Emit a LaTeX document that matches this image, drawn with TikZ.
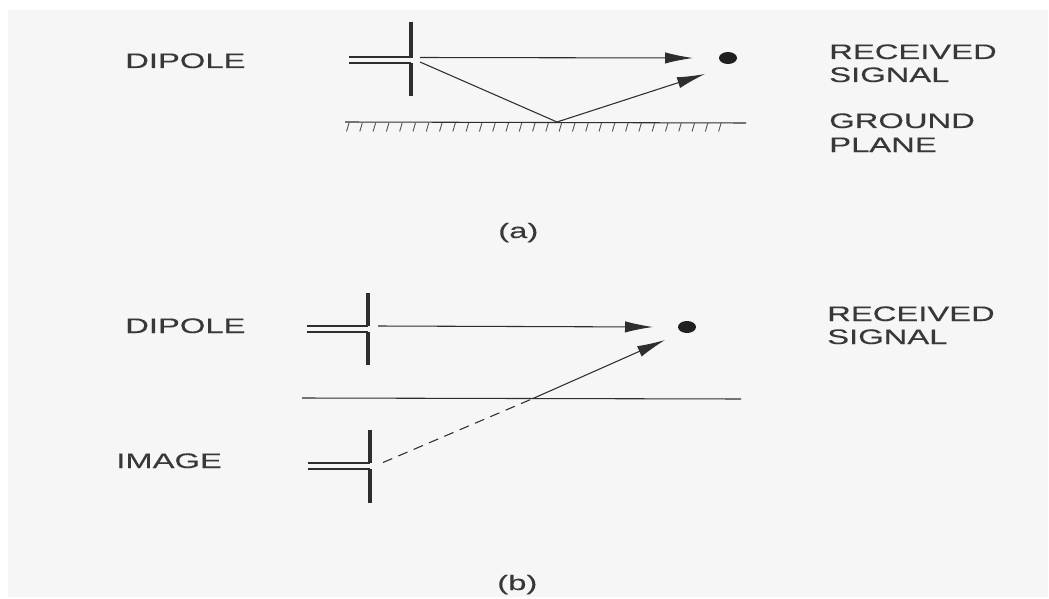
\documentclass[tikz,border=0pt]{standalone}
\usepackage{fontspec}
\setmainfont[FakeStretch=1.56,FakeBold=0.25]{Liberation Sans}
\usetikzlibrary{arrows.meta,shapes.geometric}
\definecolor{paper}{HTML}{F6F6F6}
\definecolor{ink}{HTML}{2E2E2E}
\definecolor{txt}{HTML}{383838}
\tikzset{
  lbl/.style={anchor=base west,inner sep=0pt,text=txt,font=\fontsize{15.75pt}{18pt}\selectfont},
  arm/.style={draw=ink,line width=3pt},
  feed/.style={draw=ink,line width=0.95pt},
  ray/.style={draw=ink,line width=0.8pt},
  head/.style={-{Latex[length=21pt,width=8.5pt]}},
  plane/.style={draw=ink,line width=0.8pt},
  hatch/.style={draw=ink!80,line width=0.7pt},
  rxdot/.style={ellipse,fill=black!88,inner sep=0pt,minimum width=13.5pt,minimum height=9pt}
}
\begin{document}
\begin{tikzpicture}[x=0.75pt,y=-0.75pt]
\useasboundingbox (0,0) rectangle (1049,599);
\fill[white] (0,0) rectangle (1049,599);
\fill[paper] (8,10) rectangle (1048,597);

% labels
\node[lbl] (dipoleA) at (125,68) {DIPOLE};
\node[lbl] (recA1) at (829,59) {RECEIVED};
\node[lbl] (recA2) at (829,82) {SIGNAL};
\node[lbl] (gndA1) at (829,128) {GROUND};
\node[lbl] (gndA2) at (829,152) {PLANE};
\node[lbl] (capA) at (498,238) {(a)};
\node[lbl] (dipoleB) at (125,333) {DIPOLE};
\node[lbl] (recB1) at (827,321) {RECEIVED};
\node[lbl] (recB2) at (827,344) {SIGNAL};
\node[lbl] (image) at (116,468) {IMAGE};
\node[lbl] (capB) at (497,590) {(b)};

% panel (a)
\coordinate (aTop) at (411,22);
\coordinate (aGapU) at (411,58);
\coordinate (aGapL) at (411,63);
\coordinate (aBot) at (411,96);
\coordinate (aFeedU) at (349,57);
\coordinate (aFeedL) at (349,63);
\coordinate (aS1) at (420,57.5);
\coordinate (aE1) at (693,58);
\coordinate (aS2) at (420,62);
\coordinate (aHit) at (557,122);
\coordinate (aE2) at (705,74);
\coordinate (aPL) at (345,122);
\coordinate (aPR) at (746,123);
\node[rxdot] (aDot) at (728,58) {};
\draw[arm] (aTop) -- (aGapU);
\draw[arm] (aGapL) -- (aBot);
\draw[feed] (aFeedU) -- (aFeedU -| aGapU);
\draw[feed] (aFeedL) -- (aFeedL -| aGapL);
\draw[ray,head] (aS1) -- (aE1);
\draw[ray] (aS2) -- (aHit);
\draw[ray,head] (aHit) -- (aE2);
\draw[plane] (aPL) -- (aPR);
\foreach \i in {0,...,28} \draw[hatch] ({349+13.29*\i},123) -- ({346.5+13.29*\i},131.5);

% panel (b)
\coordinate (bTop) at (368,293);
\coordinate (bGapU) at (368,326);
\coordinate (bGapL) at (368,332);
\coordinate (bBot) at (368,365);
\coordinate (bFeedU) at (307,326);
\coordinate (bFeedL) at (307,332);
\coordinate (bS1) at (378,326);
\coordinate (bE1) at (653,327);
\node[rxdot] (bDot) at (687,327) {};
\coordinate (bPL) at (302,398);
\coordinate (bPR) at (741,399);
\coordinate (iTop) at (370,430);
\coordinate (iGapU) at (370,463);
\coordinate (iGapL) at (370,469);
\coordinate (iBot) at (370,503);
\coordinate (iFeedU) at (308,463);
\coordinate (iFeedL) at (308,469);
\coordinate (iS) at (383,462.5);
\coordinate (iCross) at (533,398.5);
\coordinate (iE) at (665,340);
\draw[arm] (bTop) -- (bGapU);
\draw[arm] (bGapL) -- (bBot);
\draw[feed] (bFeedU) -- (bFeedU -| bGapU);
\draw[feed] (bFeedL) -- (bFeedL -| bGapL);
\draw[ray,head] (bS1) -- (bE1);
\draw[plane] (bPL) -- (bPR);
\draw[arm] (iTop) -- (iGapU);
\draw[arm] (iGapL) -- (iBot);
\draw[feed] (iFeedU) -- (iFeedU -| iGapU);
\draw[feed] (iFeedL) -- (iFeedL -| iGapL);
\draw[ray,dash pattern=on 7.5pt off 5pt] (iS) -- (iCross);
\draw[ray,head] (iCross) -- (iE);
\end{tikzpicture}
\end{document}
